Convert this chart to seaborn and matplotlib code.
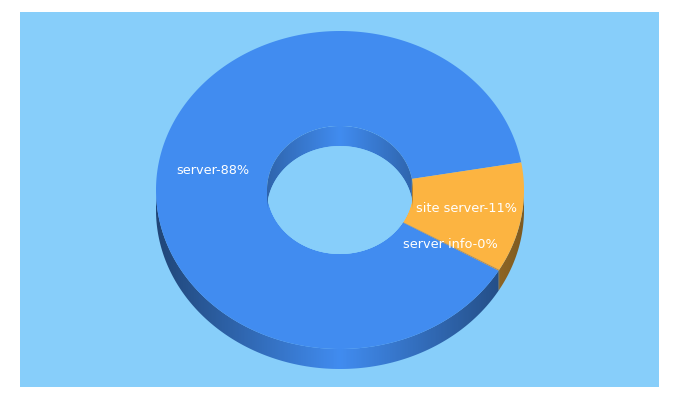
import numpy as np
import matplotlib
matplotlib.use("Agg")
import matplotlib.pyplot as plt
from matplotlib.colors import to_rgb
from matplotlib.patches import Polygon, Rectangle
import seaborn as sns

categories = ["server", "site server", "server info"]
values = [88.4, 11.1, 0.1]
slice_colors = ["#418cf0", "#fcb441", "#c98a3a"]

panel_color = "#87cefa"
site_server_start = 10  # degrees, slices run clockwise
cx, cy = 340, 190
outer_rx, outer_ry = 184, 159
inner_rx, inner_ry = 73, 64
depth = 20

sns.set_theme(style="white")
plt.rcParams["font.family"] = ["DejaVu Sans"]


def slice_edges():
    shares = np.array(values) / sum(values) * 360
    start = site_server_start + shares[0]
    ends = start - np.cumsum(shares)
    starts = np.concatenate([[start], ends[:-1]])
    return starts, ends


def ring_point(a, rx, ry, drop=0):
    rad = np.radians(a)
    return cx + rx * np.cos(rad), cy - ry * np.sin(rad) + drop


def draw_wall(ax, a_from, a_to, rx, ry, color, edge_shade, zorder):
    # one polygon per wall, filled with a left-right gradient clipped to it
    angles = np.linspace(a_from, a_to, 200)
    tx, ty = ring_point(angles, rx, ry)
    bx, by = ring_point(angles[::-1], rx, ry, depth)
    shape = Polygon(np.column_stack([np.concatenate([tx, bx]), np.concatenate([ty, by])]),
                    facecolor="none", edgecolor="none", transform=ax.transData)
    ax.add_patch(shape)
    dark = tuple(c * edge_shade for c in to_rgb(color))
    ramp = sns.blend_palette([dark, color, dark], 401)
    img = ax.imshow(np.array(ramp)[None, :, :], extent=[cx - rx, cx + rx, cy + ry + depth, cy - ry],
                    aspect="auto", zorder=zorder, interpolation="bilinear")
    img.set_clip_path(shape)


def plot_donut():
    fig = plt.figure(figsize=(6.8, 4.0), dpi=100, facecolor="white")
    ax = fig.add_axes([0, 0, 1, 1])
    ax.axis("off")
    ax.add_patch(Rectangle((20, 12), 639, 375, facecolor=panel_color, edgecolor="none", zorder=0))

    starts, ends = slice_edges()

    # outer wall, only the front half shows
    for s, e, color in zip(starts, ends, slice_colors):
        for shift in (-360, 0, 360):
            lo = max(e + shift, 180)
            hi = min(s + shift, 360)
            if lo < hi:
                draw_wall(ax, lo, hi, outer_rx, outer_ry, color, 0.5, 1)

    # top face
    for s, e, color in zip(starts, ends, slice_colors):
        angles = np.linspace(s, e, 400)
        ox, oy = ring_point(angles, outer_rx, outer_ry)
        ix, iy = ring_point(angles[::-1], inner_rx, inner_ry)
        pts = np.column_stack([np.concatenate([ox, ix]), np.concatenate([oy, iy])])
        ax.add_patch(Polygon(pts, facecolor=color, edgecolor="none", zorder=2))

    # hole: panel first, back inner wall, then the panel seen through it
    hole = np.radians(np.linspace(0, 360, 361))
    hole_pts = np.column_stack([cx + inner_rx * np.cos(hole), cy - inner_ry * np.sin(hole)])
    ax.add_patch(Polygon(hole_pts, facecolor=panel_color, edgecolor="none", zorder=3))
    for s, e, color in zip(starts, ends, slice_colors):
        for shift in (-360, 0, 360):
            lo = max(e + shift, 0)
            hi = min(s + shift, 180)
            if lo < hi:
                draw_wall(ax, lo, hi, inner_rx, inner_ry, color, 0.72, 4)
    see_through = np.column_stack([hole_pts[:, 0], hole_pts[:, 1] + depth])
    clip = Polygon(hole_pts, transform=ax.transData, facecolor="none", edgecolor="none")
    ax.add_patch(clip)
    front = Polygon(see_through, facecolor=panel_color, edgecolor="none", zorder=5)
    ax.add_patch(front)
    front.set_clip_path(clip)

    labels = [f"{c}-{round(v)}%" for c, v in zip(categories, values)]
    spots = [(213, 170), (466, 209), (450, 245)]
    for label, (x, y) in zip(labels, spots):
        ax.text(x, y, label, color="white", fontsize=9.3, ha="center", va="center", zorder=6)

    ax.set_xlim(0, 680)
    ax.set_ylim(400, 0)
    fig.savefig("out.png", dpi=100, facecolor="white")


plot_donut()
